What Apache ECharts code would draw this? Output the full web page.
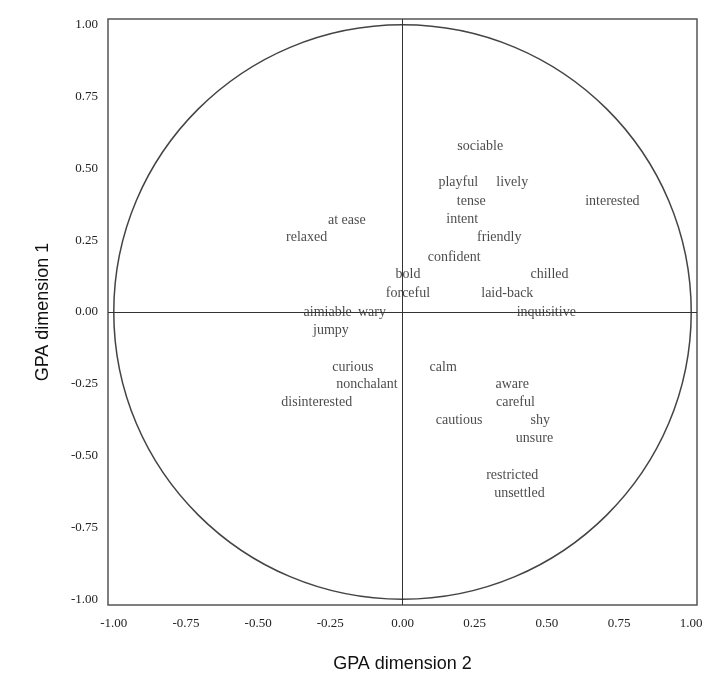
<!DOCTYPE html>
<html>
<head>
<meta charset="utf-8">
<script src="https://cdn.jsdelivr.net/npm/echarts@6/dist/echarts.min.js"></script>
<style>
html,body{margin:0;padding:0;background:#fff;}
#chart{width:706px;height:680px;}
</style>
</head>
<body>
<div id="chart"></div>
<script>
// Words and their coordinates (dimension 2 = x, dimension 1 = y)
var words = ["sociable","playful","lively","tense","interested","at ease","intent","relaxed","friendly","confident","bold","chilled","forceful","laid-back","aimiable","wary","inquisitive","jumpy","curious","calm","nonchalant","aware","disinterested","careful","cautious","shy","unsure","restricted","unsettled"];
var dim2 = [0.269,0.193,0.380,0.238,0.727,-0.193,0.207,-0.332,0.335,0.179,0.019,0.509,0.019,0.363,-0.259,-0.106,0.498,-0.248,-0.172,0.141,-0.123,0.380,-0.297,0.391,0.196,0.477,0.457,0.380,0.405];
var dim1 = [0.576,0.451,0.451,0.385,0.385,0.319,0.323,0.260,0.260,0.191,0.132,0.132,0.066,0.066,0.0,0.0,0.0,-0.063,-0.191,-0.191,-0.253,-0.253,-0.316,-0.316,-0.378,-0.378,-0.441,-0.569,-0.632];
var tickValues = [-1,-0.75,-0.5,-0.25,0,0.25,0.5,0.75,1];
var circleRadius = [1];

var pts = words.map(function(w,i){ return {name:w, value:[dim2[i], dim1[i]]}; });

var chart = echarts.init(document.getElementById('chart'));
chart.setOption({
  animation:false,
  backgroundColor:'#fff',
  grid:{left:108, top:19, width:589, height:586, show:true, borderColor:'#555', borderWidth:1.5, backgroundColor:'transparent'},
  xAxis:{
    type:'value', min:-1.02, max:1.02,
    splitLine:{show:false}, axisTick:{show:false},
    axisLine:{show:false},
    axisLabel:{customValues:tickValues, formatter:function(v){return v.toFixed(2);}, color:'#222', fontFamily:'Liberation Serif', fontSize:13, margin:12},
    name:'GPA dimension 2', nameLocation:'middle', nameGap:50,
    nameTextStyle:{fontFamily:'Liberation Sans', fontSize:18, color:'#111'}
  },
  yAxis:{
    type:'value', min:-1.02, max:1.02,
    splitLine:{show:false}, axisTick:{show:false},
    axisLine:{show:false},
    axisLabel:{customValues:tickValues, formatter:function(v){return v.toFixed(2);}, color:'#222', fontFamily:'Liberation Serif', fontSize:13, margin:10},
    name:'GPA dimension 1', nameLocation:'middle', nameGap:56,
    nameTextStyle:{fontFamily:'Liberation Sans', fontSize:18, color:'#111'}
  },
  series:[
    {
      type:'custom', silent:true, clip:false, z:1,
      data:[[0,0]],
      renderItem:function(params, api){
        var c = api.coord([api.value(0), api.value(1)]);
        var s = api.size([circleRadius[0], circleRadius[0]]);
        return {type:'ellipse', shape:{cx:c[0], cy:c[1], rx:s[0], ry:s[1]},
          style:{fill:'none', stroke:'#444', lineWidth:1.5}};
      }
    },
    {
      type:'scatter', z:3,
      data:pts,
      symbolSize:1,
      itemStyle:{color:'rgba(0,0,0,0)'},
      label:{show:true, position:'inside', formatter:'{b}', color:'#1a1a1a', fontFamily:'Liberation Serif', fontSize:14},
      markLine:{
        silent:true, symbol:['none','none'],
        lineStyle:{color:'#333', width:1, type:'solid'},
        label:{show:false},
        data:[{xAxis:0},{yAxis:0}]
      }
    }
  ]
});
</script>
</body>
</html>
